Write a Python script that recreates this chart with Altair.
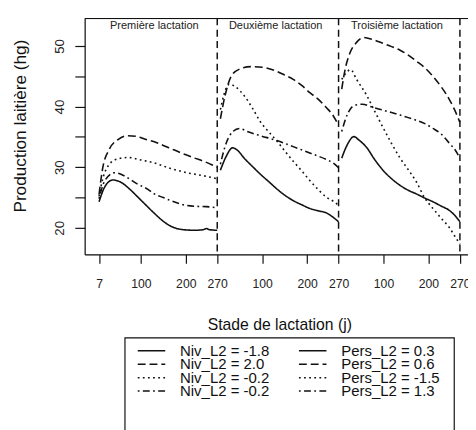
import altair as alt
import pandas as pd

FONT = "Liberation Sans"
INK = "#111111"

lactation_names = ["Première lactation", "Deuxième lactation", "Troisième lactation"]
lactation_length = 270
styles = ["solid", "dashed", "dotted", "dotdash"]
niv_labels = ["Niv_L2 = -1.8", "Niv_L2 = 2.0", "Niv_L2 = -0.2", "Niv_L2 = -0.2"]
pers_labels = ["Pers_L2 = 0.3", "Pers_L2 = 0.6", "Pers_L2 = -1.5", "Pers_L2 = 1.3"]
x_tick_values = [7, 100, 200, 270, 370, 470, 540, 640, 740, 810]
y_tick_values = [20, 25, 30, 35, 40, 45, 50]

# ---- Lactation 1 ----
L1_solid_days = [7, 20, 38, 56, 75, 93, 112, 130, 148, 166, 185, 202, 220, 239, 246, 252, 270]
L1_solid_vals = [24.3, 26.8, 27.9, 27.5, 26.4, 25.1, 23.7, 22.4, 21.2, 20.3, 19.8, 19.65, 19.6, 19.7, 19.9, 19.7, 19.6]
L1_dashed_days = [7, 15, 30, 50, 71, 90, 110, 130, 150, 166, 185, 202, 220, 239, 255, 270]
L1_dashed_vals = [25.5, 29.8, 33.0, 34.6, 35.2, 35.1, 34.6, 34.2, 33.6, 33.1, 32.5, 32.0, 31.5, 31.0, 30.5, 30.0]
L1_dotted_days = [7, 15, 30, 50, 71, 100, 130, 166, 202, 239, 270]
L1_dotted_vals = [25.2, 28.0, 30.5, 31.4, 31.6, 31.2, 30.7, 29.8, 29.1, 28.6, 28.1]
L1_dotdash_days = [7, 20, 42, 65, 93, 115, 130, 150, 166, 185, 202, 224, 245, 270]
L1_dotdash_vals = [24.8, 27.8, 29.1, 28.5, 27.2, 26.4, 25.6, 25.0, 24.5, 24.0, 23.7, 23.55, 23.5, 23.3]

# ---- Lactation 2 ----
L2_solid_days = [7, 20, 34, 45, 60, 80, 96, 115, 133, 150, 169, 188, 206, 225, 242, 255, 270]
L2_solid_vals = [29.5, 31.8, 33.2, 32.8, 31.5, 30.0, 28.85, 27.6, 26.4, 25.4, 24.5, 23.8, 23.2, 22.8, 22.5, 21.9, 21.0]
L2_dashed_days = [7, 18, 31, 50, 75, 100, 133, 150, 169, 188, 206, 225, 242, 258, 270]
L2_dashed_vals = [38.0, 42.0, 45.0, 46.2, 46.6, 46.5, 45.8, 45.2, 44.5, 43.5, 42.3, 41.2, 39.9, 38.5, 36.9]
L2_dotted_days = [7, 15, 27, 40, 60, 78, 96, 115, 133, 150, 169, 188, 206, 225, 242, 258, 270]
L2_dotted_vals = [39.5, 42.0, 43.7, 43.3, 41.8, 39.8, 37.5, 35.8, 34.3, 32.7, 31.0, 29.4, 27.8, 26.3, 25.1, 24.4, 23.7]
L2_dotdash_days = [7, 20, 35, 49, 70, 96, 133, 169, 206, 242, 258, 270]
L2_dotdash_vals = [30.5, 34.0, 35.9, 36.4, 35.8, 35.2, 34.4, 33.4, 32.35, 31.3, 30.7, 29.9]

# ---- Lactation 3 ----
L3_solid_days = [7, 20, 34, 45, 63, 80, 100, 118, 137, 155, 173, 192, 210, 228, 246, 258, 270]
L3_solid_vals = [31.5, 33.8, 35.05, 34.5, 33.2, 31.3, 29.4, 28.1, 27.0, 26.2, 25.6, 24.9, 24.3, 23.6, 22.9, 22.1, 21.0]
L3_dashed_days = [7, 15, 25, 40, 56, 75, 100, 118, 137, 155, 173, 192, 210, 228, 246, 258, 270]
L3_dashed_vals = [42.9, 46.3, 48.8, 50.6, 51.4, 51.1, 50.4, 49.9, 49.3, 48.5, 47.5, 46.4, 45.0, 43.3, 41.25, 39.5, 37.4]
L3_dotted_days = [7, 17, 27, 40, 63, 80, 100, 118, 137, 155, 173, 192, 210, 228, 246, 258, 270]
L3_dotted_vals = [44.5, 45.6, 46.1, 44.5, 41.8, 39.3, 36.4, 33.9, 31.5, 29.6, 27.6, 24.9, 23.2, 21.6, 20.1, 18.7, 17.3]
L3_dotdash_days = [7, 20, 35, 53, 75, 100, 137, 173, 192, 210, 228, 246, 258, 270]
L3_dotdash_vals = [35.9, 38.8, 40.2, 40.4, 39.9, 39.4, 38.6, 37.75, 37.2, 36.4, 35.5, 34.0, 33.0, 31.5]

curves = {
    (1, "solid"): (L1_solid_days, L1_solid_vals),
    (1, "dashed"): (L1_dashed_days, L1_dashed_vals),
    (1, "dotted"): (L1_dotted_days, L1_dotted_vals),
    (1, "dotdash"): (L1_dotdash_days, L1_dotdash_vals),
    (2, "solid"): (L2_solid_days, L2_solid_vals),
    (2, "dashed"): (L2_dashed_days, L2_dashed_vals),
    (2, "dotted"): (L2_dotted_days, L2_dotted_vals),
    (2, "dotdash"): (L2_dotdash_days, L2_dotdash_vals),
    (3, "solid"): (L3_solid_days, L3_solid_vals),
    (3, "dashed"): (L3_dashed_days, L3_dashed_vals),
    (3, "dotted"): (L3_dotted_days, L3_dotted_vals),
    (3, "dotdash"): (L3_dotdash_days, L3_dotdash_vals),
}

rows = []
for (lact, style), (days, vals) in curves.items():
    for d, v in zip(days, vals):
        rows.append({"lact": lact, "style": style, "day": d, "value": v,
                     "series": f"{style}-{lact}",
                     "pos": (lact - 1) * lactation_length + d})
df = pd.DataFrame(rows)

dash_range = [[1, 0], [8, 4], [1.8, 3.4], [1.8, 3.4, 7, 3.4]]
dash_of = dict(zip(styles, dash_range))

xs = alt.Scale(domain=[-25, 828], nice=False, zero=False)
ys = alt.Scale(domain=[15.62, 54.54], nice=False, zero=False)

x_axis = alt.Axis(
    values=x_tick_values,
    labelExpr="'' + (datum.value <= 270 ? datum.value : (datum.value <= 540 ? datum.value - 270 : datum.value - 540))",
    labelOverlap=False, labelFlush=False, grid=False,
    domainColor=INK, domainWidth=1.2, tickColor=INK, tickWidth=1.2, tickSize=9,
    labelFontSize=12.4, labelColor="#222222", labelPadding=15, labelFont=FONT,
    title="Stade de lactation (j)", titleFontSize=16, titleFontWeight="normal",
    titleColor="#111111", titleFont=FONT, titleX=198, titleY=71,
    titleAlign="center", titleBaseline="middle", titleAngle=0,
)
y_axis = alt.Axis(
    values=y_tick_values,
    labelExpr="datum.value % 10 == 0 ? datum.label : ''",
    labelOverlap=False, labelFlush=False, grid=False,
    domainColor=INK, domainWidth=1.2, tickColor=INK, tickWidth=1.2, tickSize=10,
    labelFontSize=13.5, labelColor="#222222", labelPadding=9, labelFont=FONT,
    labelAngle=270, labelAlign="center", labelBaseline="bottom",
    title="Production laitière (hg)", titleFontSize=17.5, titleFontWeight="normal",
    titleColor="#111111", titleFont=FONT, titleX=-65, titleY=109,
    titleAngle=270, titleAlign="center", titleBaseline="middle",
)

lines = alt.Chart(df).mark_line(
    interpolate="monotone", strokeWidth=1.6, color=INK, strokeCap="butt"
).encode(
    x=alt.X("pos:Q", scale=xs, axis=x_axis),
    y=alt.Y("value:Q", scale=ys, axis=y_axis),
    strokeDash=alt.StrokeDash("style:N", scale=alt.Scale(domain=styles, range=dash_range), legend=None),
    detail="series:N",
)

bounds = pd.DataFrame({"b": [lactation_length * (k + 1) for k in range(len(lactation_names))]})
vlines = alt.Chart(bounds).mark_rule(
    strokeDash=[7, 4.5], strokeWidth=1.5, color=INK
).encode(x=alt.X("b:Q", scale=xs))

top_border = alt.Chart(pd.DataFrame({"a": [0]})).mark_rule(
    strokeWidth=1.2, color=INK
).encode(y=alt.value(0))

lab_df = pd.DataFrame({
    "name": lactation_names,
    "pos": [k * lactation_length + 130 for k in range(len(lactation_names))],
})
lact_labels = alt.Chart(lab_df).mark_text(
    font=FONT, fontSize=11.2, color="#222222", baseline="middle", align="center"
).encode(x=alt.X("pos:Q", scale=xs), y=alt.value(8), text="name:N")

one = pd.DataFrame({"a": [0]})
legend_layers = [
    alt.Chart(one).mark_rect(fillOpacity=0, stroke=INK, strokeWidth=1.2).encode(
        x=alt.value(41), x2=alt.value(376), y=alt.value(325), y2=alt.value(440)
    )
]
for i, style in enumerate(styles):
    yy = 338 + 13.7 * i
    for x0, label in ((54, niv_labels[i]), (218, pers_labels[i])):
        legend_layers.append(
            alt.Chart(one).mark_rule(strokeWidth=1.5, color=INK, strokeDash=dash_of[style], strokeCap="butt").encode(
                x=alt.value(x0), x2=alt.value(x0 + 28), y=alt.value(yy)
            )
        )
        legend_layers.append(
            alt.Chart(one).mark_text(font=FONT, fontSize=15.2, color="#111111", align="left", baseline="middle").encode(
                x=alt.value(x0 + 43), y=alt.value(yy), text=alt.value(label)
            )
        )

chart = alt.layer(lines, vlines, top_border, lact_labels, *legend_layers).properties(
    width=390, height=240,
    autosize=alt.AutoSizeParams(type="none"),
    padding={"left": 78, "top": 7, "right": 0, "bottom": 175},
).configure_view(strokeWidth=0).configure(background="white")

chart.save("out.html", embed_options={"renderer": "svg", "actions": False})
